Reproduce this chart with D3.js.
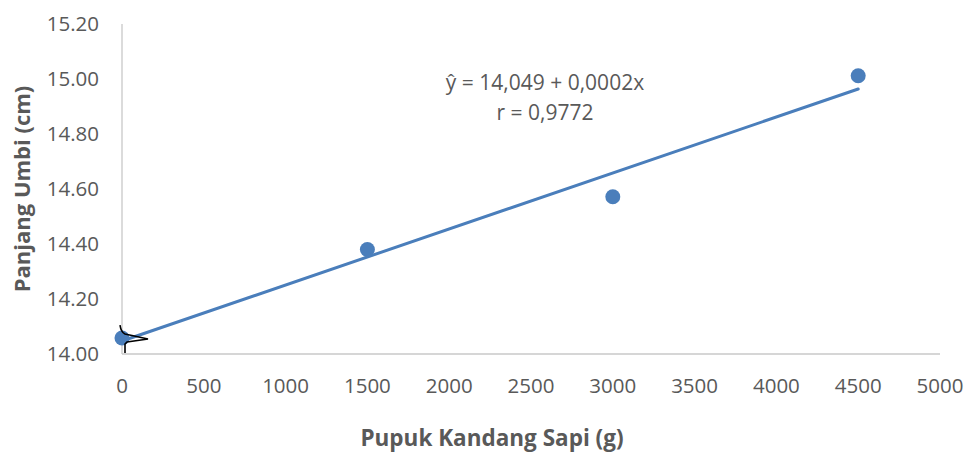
<!DOCTYPE html>
<html>
<head>
<meta charset="utf-8">
<script src="https://cdn.jsdelivr.net/npm/d3@7"></script>
<style>
  html, body { margin: 0; padding: 0; background: #ffffff; }
  svg { display: block; }
</style>
</head>
<body>
<svg id="chart" width="966" height="453"></svg>
<script>
// Fertilizer dose (g) and tuber length (cm)
const doses = [0, 1500, 3000, 4500];
const lengths = [14.058, 14.38, 14.572, 15.012];
const xTicks = [0, 500, 1000, 1500, 2000, 2500, 3000, 3500, 4000, 4500, 5000];
const yTicks = [14.0, 14.2, 14.4, 14.6, 14.8, 15.0, 15.2];
const equationLines = ["ŷ = 14,049 + 0,0002x", "r = 0,9772"];
const xTitle = "Pupuk Kandang Sapi (g)";
const yTitle = "Panjang Umbi (cm)";

const svg = d3.select("#chart");
const font = "'Open Sans', 'Noto Sans', sans-serif";
const grey = "#595959";
const blue = "#4a7ebb";

const x = d3.scaleLinear().domain([0, 5000]).range([122, 940]);
const y = d3.scaleLinear().domain([14.0, 15.2]).range([354, 24]);

// axis lines
svg.append("line").attr("x1", x(0)).attr("x2", x(0)).attr("y1", y(15.2)).attr("y2", y(14.0))
  .attr("stroke", "#c8c8c8").attr("stroke-width", 1.3);
svg.append("line").attr("x1", x(0)).attr("x2", x(5000)).attr("y1", y(14.0)).attr("y2", y(14.0))
  .attr("stroke", "#c8c8c8").attr("stroke-width", 1.3);

// tick labels
svg.append("g").selectAll("text").data(yTicks).join("text")
  .attr("x", 99).attr("y", d => y(d)).attr("dy", "0.35em")
  .attr("text-anchor", "end").attr("fill", grey)
  .style("font-family", font).style("font-size", "20.5px")
  .text(d => d.toFixed(2));

svg.append("g").selectAll("text").data(xTicks).join("text")
  .attr("x", d => x(d)).attr("y", 386).attr("dy", "0.35em")
  .attr("text-anchor", "middle").attr("fill", grey)
  .style("font-family", font).style("font-size", "20.5px")
  .text(d => d);

// least-squares trend line over the observed dose range
const mx = d3.mean(doses), my = d3.mean(lengths);
const sxy = d3.sum(doses, (d, i) => (d - mx) * (lengths[i] - my));
const sxx = d3.sum(doses, d => (d - mx) ** 2);
const slope = sxy / sxx, intercept = my - slope * mx;
const xMin = d3.min(doses), xMax = d3.max(doses);
svg.append("line")
  .attr("x1", x(xMin)).attr("y1", y(intercept + slope * xMin))
  .attr("x2", x(xMax)).attr("y2", y(intercept + slope * xMax))
  .attr("stroke", blue).attr("stroke-width", 3).attr("stroke-linecap", "round");

// observations
svg.append("g").selectAll("circle").data(doses).join("circle")
  .attr("cx", d => x(d)).attr("cy", (d, i) => y(lengths[i]))
  .attr("r", 7.5).attr("fill", blue);

// pointer glyph resting on the first observation
const px = x(doses[0]), py = y(lengths[0]);
svg.append("path")
  .attr("d", `M${px - 2},${py - 13} Q${px - 1},${py - 6} ${px + 3},${py - 4} L${px + 26},${py + 1} L${px + 5},${py + 4} L${px + 3},${py + 6} L${px + 3},${py + 15}`)
  .attr("fill", "none").attr("stroke", "#000").attr("stroke-width", 1.6).attr("stroke-linejoin", "miter");

// regression equation
svg.append("g").selectAll("text").data(equationLines).join("text")
  .attr("x", 545).attr("y", (d, i) => 83 + i * 30).attr("dy", "0.35em")
  .attr("text-anchor", "middle").attr("fill", grey)
  .style("font-family", font).style("font-size", "21px")
  .text(d => d);

// axis titles
svg.append("text")
  .attr("x", 492).attr("y", 438).attr("dy", "0.35em")
  .attr("text-anchor", "middle").attr("fill", grey)
  .style("font-family", font).style("font-size", "22.5px").style("font-weight", "bold")
  .text(xTitle);

svg.append("text")
  .attr("transform", "translate(22,189) rotate(-90)")
  .attr("dy", "0.35em")
  .attr("text-anchor", "middle").attr("fill", grey)
  .style("font-family", font).style("font-size", "22px").style("font-weight", "bold")
  .text(yTitle);
</script>
</body>
</html>
